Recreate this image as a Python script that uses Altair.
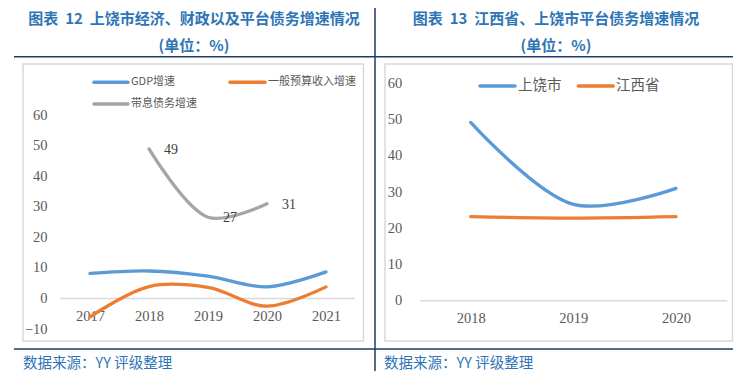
import altair as alt
import pandas as pd

# ---------------- data ----------------
years_left = [2017, 2018, 2019, 2020, 2021]
gdp_growth = [8.2, 9.0, 7.3, 3.8, 8.7]
revenue_growth = [-6.0, 3.9, 3.6, -2.5, 3.8]
debt_years = [2018, 2019, 2020]
debt_growth = [49.0, 26.6, 31.0]
left_series = ["GDP增速", "一般预算收入增速", "带息债务增速"]
left_yticks = [-10, 0, 10, 20, 30, 40, 50, 60]

years_right = [2018, 2019, 2020]
shangrao_debt = [49.2, 26.6, 31.0]
jiangxi_debt = [23.2, 22.8, 23.2]
right_series = ["上饶市", "江西省"]
right_yticks = [0, 10, 20, 30, 40, 50, 60]

title_left = "图表\u00a0\u00a012\u00a0\u00a0上饶市经济、财政以及平台债务增速情况"
title_right = "图表\u00a0\u00a013\u00a0\u00a0江西省、上饶市平台债务增速情况"
unit_text = "(单位：%)"
source_text = "数据来源：YY 评级整理"

# ---------------- styles ----------------
BLUE, ORANGE, GRAY = "#5B9BD5", "#ED7D31", "#A5A5A5"
TITLE_BLUE = "#2E75B6"
NAVY = "#1F3864"
FRAME = "#D9D9D9"
LABEL = "#595959"
CJK = "Noto Sans CJK SC"
SERIF = "Liberation Serif"

left_df = pd.DataFrame({
    "year": years_left + years_left + debt_years,
    "value": gdp_growth + revenue_growth + debt_growth,
    "series": [left_series[0]] * len(years_left) + [left_series[1]] * len(years_left)
    + [left_series[2]] * len(debt_years),
})
debt_df = pd.DataFrame({"year": debt_years, "value": debt_growth})
right_df = pd.DataFrame({
    "year": [str(y) for y in years_right + years_right],
    "value": shangrao_debt + jiangxi_debt,
    "series": [right_series[0]] * len(years_right) + [right_series[1]] * len(years_right),
})
zero_df = pd.DataFrame({"value": [0]})
one = pd.DataFrame({"k": [0]})


def xaxis(offset, **kw):
    return alt.Axis(orient="bottom", offset=offset, labelPadding=0,
                    ticks=False, tickSize=0, domain=False, grid=False, labelBaseline="middle",
                    labelFlush=False, labelOverlap=False, labelFont=SERIF, labelFontSize=14.5,
                    labelColor=LABEL, labelAngle=0, title=None, **kw)


def yaxis(vals, offset):
    return alt.Axis(orient="left", values=vals, format="d", offset=offset, labelPadding=0,
                    ticks=False, tickSize=0, domain=False, grid=False, labelAlign="right",
                    labelBaseline="middle", labelOverlap=False, labelFont=SERIF,
                    labelFontSize=14.5, labelColor=LABEL, title=None)


# ---------------- left panel ----------------
lx = alt.X("year:Q", scale=alt.Scale(domain=[2017, 2021], range=[82, 318], nice=False, zero=False),
           axis=xaxis(-54.3, values=years_left, format="d"))
ly = alt.Y("value:Q", scale=alt.Scale(domain=[-10, 60], range=[321, 107.3], nice=False, zero=False),
           axis=yaxis(left_yticks, -39))

left_zero = alt.Chart(zero_df).mark_rule(color=FRAME, strokeWidth=1.5).encode(
    y=ly, x=alt.value(52), x2=alt.value(347))
left_lines = alt.Chart(left_df).mark_line(
    interpolate="catmull-rom", strokeWidth=3.3, strokeCap="round", clip=False
).encode(
    x=lx, y=ly,
    color=alt.Color("series:N", scale=alt.Scale(domain=left_series, range=[BLUE, ORANGE, GRAY]),
                    legend=None),
)
left_labels = alt.Chart(debt_df).mark_text(
    dx=22, dy=1, font=SERIF, fontSize=14, color="#404040"
).encode(x=lx, y=ly, text=alt.Text("value:Q", format=".0f"))
left_panel = alt.layer(left_zero, left_lines, left_labels)

# ---------------- right panel ----------------
rx = alt.X("year:O",
           scale=alt.Scale(type="point", domain=[str(y) for y in years_right],
                           range=[462.7, 668], padding=0),
           sort=None, axis=xaxis(-52.7))
ry = alt.Y("value:Q", scale=alt.Scale(domain=[0, 60], range=[292.7, 75.3], nice=False, zero=False),
           axis=yaxis(right_yticks, -393.7))

right_zero = alt.Chart(zero_df).mark_rule(color=FRAME, strokeWidth=1.5).encode(
    y=ry, x=alt.value(412), x2=alt.value(719.3))
right_lines = alt.Chart(right_df).mark_line(
    interpolate="catmull-rom", strokeWidth=3.3, strokeCap="round", clip=False
).encode(
    x=rx, y=ry,
    color=alt.Color("series:N", scale=alt.Scale(domain=right_series, range=[BLUE, ORANGE]),
                    legend=None),
)
right_panel = alt.layer(right_zero, right_lines)

# ---------------- decorations ----------------
decor = []


def rule(x, x2, y, y2=None, color=NAVY, width=1.5, cap="butt"):
    enc = dict(x=alt.value(x), y=alt.value(y))
    if x2 is not None:
        enc["x2"] = alt.value(x2)
    if y2 is not None:
        enc["y2"] = alt.value(y2)
    return alt.Chart(one).mark_rule(color=color, strokeWidth=width, strokeCap=cap).encode(**enc)


def text(s, x, y, size, color, weight="normal", align="center", font=CJK):
    return alt.Chart(one).mark_text(
        text=s, font=font, fontSize=size, fontWeight=weight, color=color,
        align=align, baseline="middle"
    ).encode(x=alt.value(x), y=alt.value(y))


def frame(x, x2, y, y2):
    return alt.Chart(one).mark_rect(fillOpacity=0, stroke=FRAME, strokeWidth=1.5).encode(
        x=alt.value(x), x2=alt.value(x2), y=alt.value(y), y2=alt.value(y2))


decor += [frame(15, 355.5, 56, 333), frame(377, 724.5, 56, 333)]
decor += [rule(6, 725, 48.7), rule(6, 725, 341), rule(367, None, 0, 363)]
decor += [
    text(title_left, 186, 11, 15, TITLE_BLUE, "bold"),
    text(unit_text, 186, 37.5, 15, TITLE_BLUE, "bold"),
    text(title_right, 548, 11, 15, TITLE_BLUE, "bold"),
    text(unit_text, 548, 37.5, 15, TITLE_BLUE, "bold"),
    text(source_text, 15, 356, 14.5, TITLE_BLUE, align="left"),
    text(source_text, 376, 356, 14.5, TITLE_BLUE, align="left"),
]
# left legend
decor += [
    rule(86, 120, 74.3, color=BLUE, width=3.5, cap="round"),
    text(left_series[0], 123, 74.3, 11, LABEL, align="left"),
    rule(222, 257, 74.3, color=ORANGE, width=3.5, cap="round"),
    text(left_series[1], 260, 74.3, 11, LABEL, align="left"),
    rule(86, 120, 96, color=GRAY, width=3.5, cap="round"),
    text(left_series[2], 123, 96, 11, LABEL, align="left"),
]
# right legend
decor += [
    rule(472, 507, 78, color=BLUE, width=3.5, cap="round"),
    text(right_series[0], 510, 78, 14.5, LABEL, align="left"),
    rule(570.3, 605.3, 78, color=ORANGE, width=3.5, cap="round"),
    text(right_series[1], 608, 78, 14.5, LABEL, align="left"),
]

chart = alt.layer(left_panel, right_panel, *decor).resolve_scale(
    x="independent", y="independent", color="independent"
).properties(
    width=725, height=363, padding=0,
    autosize=alt.AutoSizeParams(type="none"),
    background="white",
).configure_view(stroke=None)

chart.save("out.html", embed_options={"renderer": "svg", "actions": False})
